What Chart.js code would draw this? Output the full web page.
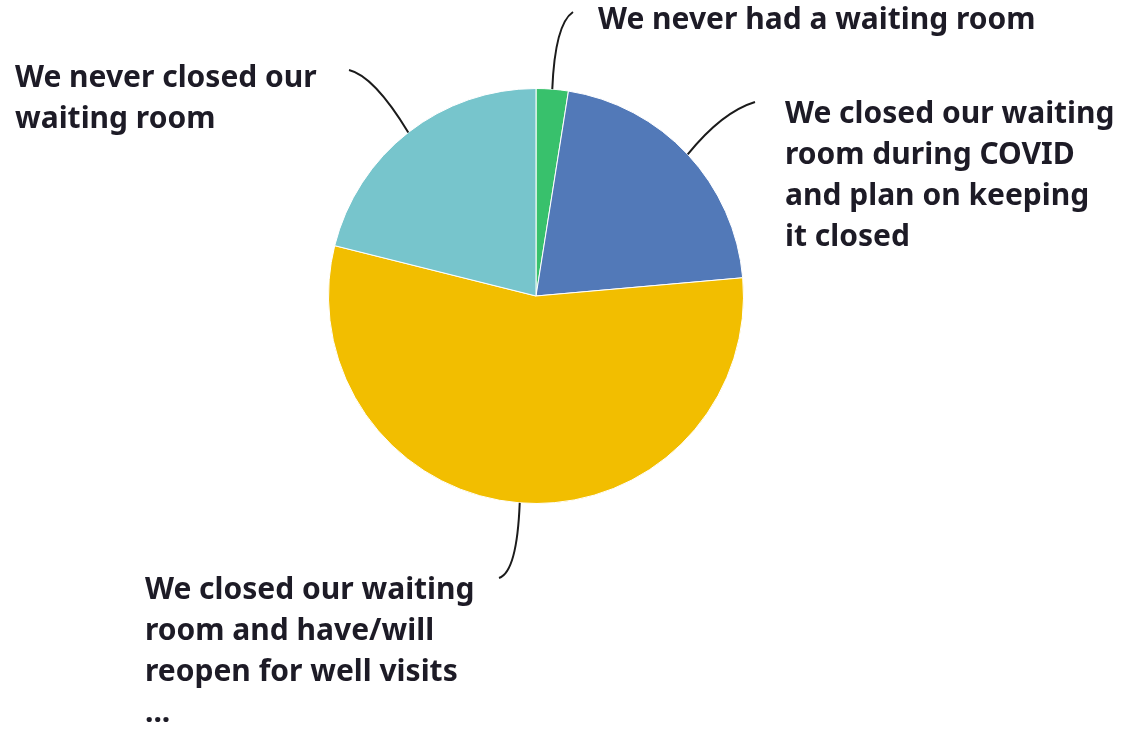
<!DOCTYPE html>
<html><head><meta charset="utf-8">
<script src="https://cdn.jsdelivr.net/npm/chart.js@4"></script>
<style>html,body{margin:0;padding:0;background:#fff;}#wrap{width:1134px;height:729px;position:relative;}</style>
</head><body><div id="wrap"><canvas id="c" width="1134" height="729"></canvas></div>
<script>
const categories = [
  "We never had a waiting room",
  "We closed our waiting room during COVID and plan on keeping it closed",
  "We closed our waiting room and have/will reopen for well visits ...",
  "We never closed our waiting room"
];
const values = [2.5, 21.1, 55.3, 21.1];
const colors = ["#38c16c", "#5279b8", "#f2be00", "#77c5cc"];
const labelLines = [
  ["We never had a waiting room"],
  ["We closed our waiting", "room during COVID", "and plan on keeping", "it closed"],
  ["We closed our waiting", "room and have/will", "reopen for well visits", "..."],
  ["We never closed our", "waiting room"]
];

const FONT = 'bold 30px "Noto Sans", sans-serif';
const LH = 41;

const labelPlugin = {
  id: 'calloutLabels',
  afterDatasetsDraw(chart) {
    const ctx = chart.ctx;
    const meta = chart.getDatasetMeta(0);
    const layout = [
      {tx: 598, ty: 20, end: [573, 12], ctrl: [555, 24]},
      {tx: 785, ty: 114, end: [755, 102], ctrl: [722, 112]},
      {tx: 145, ty: 590, end: [499, 578], ctrl: [517, 572]},
      {tx: 15, ty: 78, end: [349, 70], ctrl: [374, 76]}
    ];
    ctx.save();
    meta.data.forEach((arc, i) => {
      const p = arc.getProps(['x','y','startAngle','endAngle','outerRadius'], true);
      const L = layout[i];
      const ang = (p.startAngle + p.endAngle) / 2;
      const sx = p.x + Math.cos(ang) * p.outerRadius;
      const sy = p.y + Math.sin(ang) * p.outerRadius;
      ctx.beginPath();
      ctx.strokeStyle = '#1b1b1b';
      ctx.lineWidth = 2;
      ctx.moveTo(sx, sy);
      ctx.quadraticCurveTo(L.ctrl[0], L.ctrl[1], L.end[0], L.end[1]);
      ctx.stroke();
      ctx.fillStyle = '#1d1b26';
      ctx.font = FONT;
      ctx.textBaseline = 'middle';
      ctx.textAlign = 'left';
      labelLines[i].forEach((t, k) => ctx.fillText(t, L.tx, L.ty + k * LH));
    });
    ctx.restore();
  }
};

new Chart(document.getElementById('c'), {
  type: 'pie',
  data: {
    labels: categories,
    datasets: [{
      data: values,
      backgroundColor: colors,
      borderColor: '#ffffff',
      borderWidth: 1
    }]
  },
  options: {
    responsive: false,
    animation: false,
    layout: {padding: {left: 328, top: 88, right: 390, bottom: 225}},
    plugins: {legend: {display: false}, tooltip: {enabled: false}}
  },
  plugins: [labelPlugin]
});
</script>
</body></html>
